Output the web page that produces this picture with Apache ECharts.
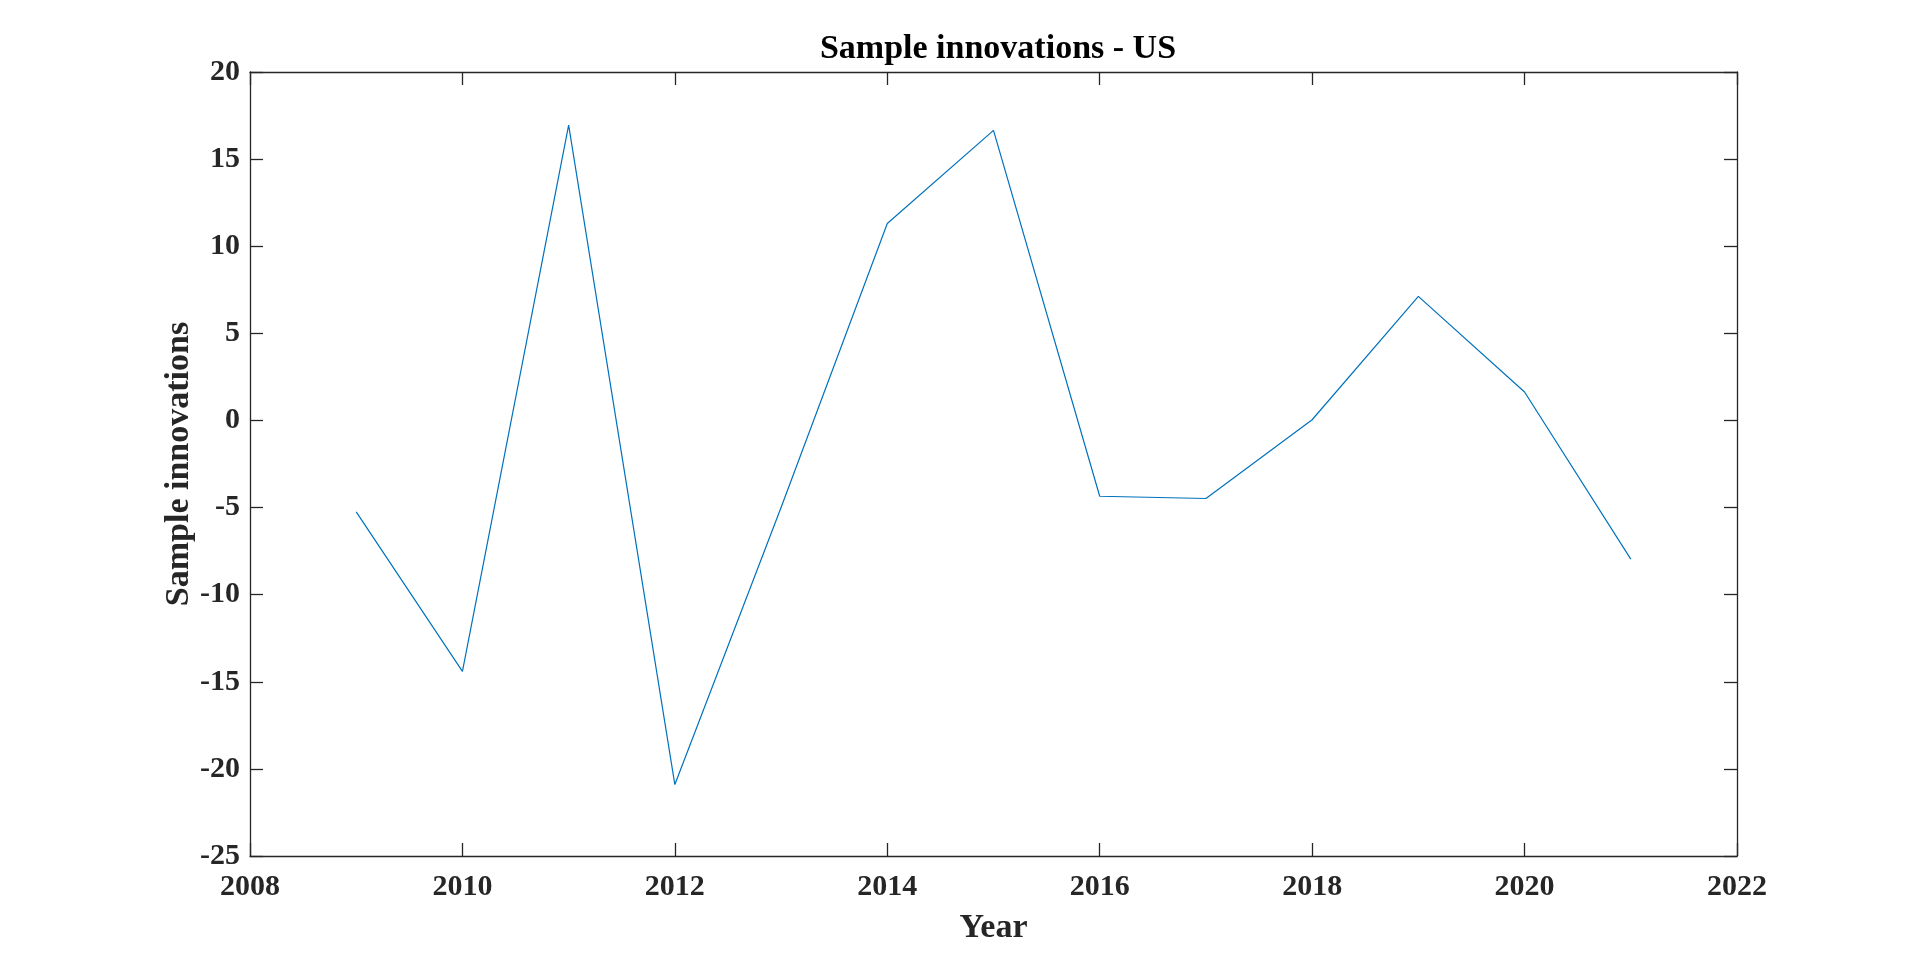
<!DOCTYPE html>
<html>
<head>
<meta charset="utf-8">
<title>Sample innovations - US</title>
<script src="https://cdn.jsdelivr.net/npm/echarts@6/dist/echarts.min.js"></script>
<style>
  html, body { margin: 0; padding: 0; background: #fff; }
  #chart { width: 1920px; height: 963px; }
</style>
</head>
<body>
<div id="chart"></div>
<script>
// 数据
const years = [2009, 2010, 2011, 2012, 2013, 2014, 2015, 2016, 2017, 2018, 2019, 2020, 2021]
const innovations = [-5.25, -14.4, 16.95, -20.9, -5.0, 11.3, 16.65, -4.35, -4.48, 0.04, 7.12, 1.63, -7.96]

const axisColor = "#262626"
const fontFamily = "'Liberation Serif', 'Times New Roman', serif"

const myChart = echarts.init(document.getElementById("chart"))

// MATLAB 风格的盒子坐标轴：四周都有向内的刻度
function boxAxis(extra) {
  return Object.assign(
    {
      type: "value",
      axisLine: { show: true, onZero: false, lineStyle: { color: axisColor, width: 1.3 } },
      axisTick: { show: true, inside: true, length: 13, lineStyle: { color: axisColor, width: 1.3 } },
      splitLine: { show: false },
    },
    extra
  )
}

const xRange = { min: 2008, max: 2022, interval: 2 }
const yRange = { min: -25, max: 20, interval: 5 }

const option = {
  backgroundColor: "#fff",
  animation: false,
  title: {
    text: "Sample innovations - US",
    left: 993,
    top: 27,
    textAlign: "center",
    textStyle: { fontFamily, fontWeight: "bold", fontSize: 34, color: "#000" },
  },
  grid: { left: 250, right: 183, top: 72, bottom: 107, containLabel: false },
  xAxis: [
    boxAxis({
      ...xRange,
      position: "bottom",
      name: "Year",
      nameLocation: "middle",
      nameGap: 55,
      nameMoveOverlap: false,
      nameTextStyle: { fontFamily, fontWeight: "bold", fontSize: 34, color: axisColor },
      axisLabel: {
        margin: 16,
        fontFamily,
        fontWeight: "bold",
        fontSize: 30,
        color: axisColor,
        formatter: (v) => String(v),
      },
    }),
    boxAxis({ ...xRange, position: "top", axisLabel: { show: false } }),
  ],
  yAxis: [
    boxAxis({
      ...yRange,
      position: "left",
      name: "Sample innovations",
      nameLocation: "middle",
      nameGap: 54,
      nameMoveOverlap: false,
      nameTextStyle: { fontFamily, fontWeight: "bold", fontSize: 34, color: axisColor },
      axisLabel: { margin: 10, fontFamily, fontWeight: "bold", fontSize: 30, color: axisColor },
    }),
    boxAxis({ ...yRange, position: "right", axisLabel: { show: false } }),
  ],
  series: [
    {
      name: "Sample innovations",
      type: "line",
      data: years.map((y, i) => [y, innovations[i]]),
      showSymbol: false,
      symbol: "none",
      lineStyle: { color: "#0072BD", width: 1.2 },
    },
  ],
}

myChart.setOption(option)
</script>
</body>
</html>
